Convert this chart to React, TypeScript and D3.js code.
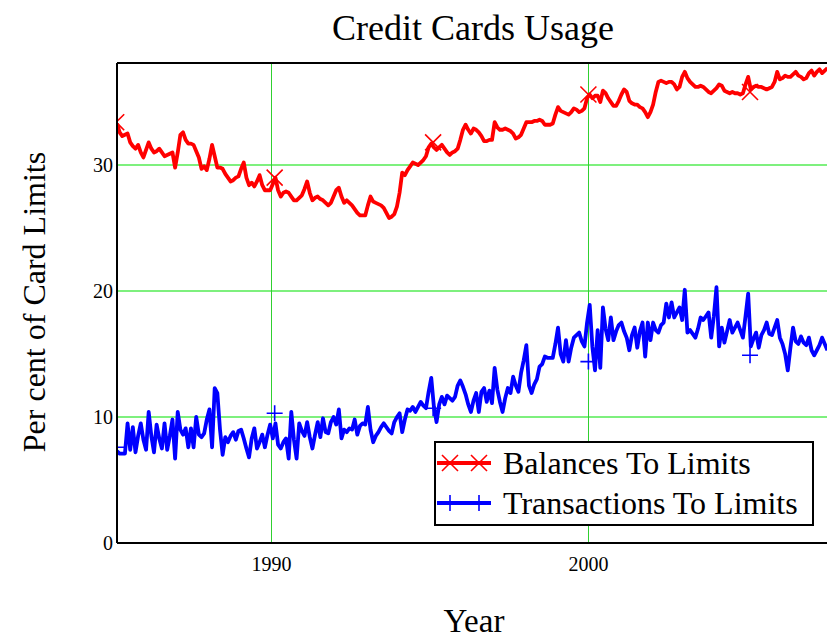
import React from 'react'
import * as d3 from 'd3'

// monthly samples, first one is Feb 1985
const startYear = 1985.125
const balances = [
  33.3, 32.6, 32.3, 32.4, 32.5, 31.8, 31.5, 31.3, 31.6, 31.0, 30.6, 31.2, 31.8, 31.3, 31.0, 31.1, 31.3, 31.0, 30.7, 30.8,
  30.9, 31.0, 29.8, 31.0, 32.4, 32.6, 32.0, 31.7, 31.7, 31.6, 31.1, 30.6, 29.7, 29.9, 29.6, 30.5, 31.6, 30.7, 29.8, 29.8,
  29.7, 29.3, 29.0, 28.7, 28.8, 29.0, 29.1, 29.7, 30.2, 29.0, 28.4, 28.6, 28.3, 28.7, 29.2, 28.4, 28.0, 28.0, 28.0, 28.5,
  29.0, 28.0, 27.5, 27.8, 27.9, 27.8, 27.5, 27.2, 27.2, 27.4, 27.6, 28.1, 28.7, 27.8, 27.2, 27.4, 27.5, 27.3, 27.2, 27.0,
  26.8, 27.0, 27.5, 28.0, 28.2, 27.5, 27.0, 27.2, 27.0, 26.8, 26.5, 26.2, 26.0, 26.0, 26.0, 26.8, 27.5, 27.1, 27.0, 26.9,
  26.8, 26.6, 26.2, 25.8, 25.9, 26.1, 26.7, 27.8, 29.4, 29.2, 29.6, 29.9, 30.2, 30.1, 30.0, 30.2, 30.4, 30.7, 31.4, 31.7,
  31.4, 31.2, 31.4, 31.6, 31.3, 31.0, 30.8, 31.0, 31.1, 31.3, 32.0, 32.8, 33.2, 32.8, 32.5, 32.9, 32.8, 32.6, 32.3, 31.9,
  31.9, 32.0, 32.0, 33.4, 33.0, 32.8, 32.8, 32.9, 32.8, 32.7, 32.5, 32.1, 32.2, 32.4, 32.9, 33.4, 33.4, 33.4, 33.5, 33.5,
  33.6, 33.5, 33.2, 33.2, 33.2, 33.3, 34.0, 34.6, 34.3, 34.2, 34.1, 34.0, 34.2, 34.5, 34.4, 34.2, 34.3, 34.5, 35.3, 35.6,
  35.3, 35.5, 35.5, 35.0, 35.9, 35.7, 35.3, 35.0, 34.7, 34.7, 35.1, 35.6, 36.0, 35.8, 35.1, 34.9, 34.8, 34.8, 34.6, 34.5,
  34.2, 33.8, 34.2, 34.8, 35.8, 36.6, 36.7, 36.6, 36.5, 36.6, 36.6, 36.4, 36.0, 36.2, 37.0, 37.4, 36.9, 36.6, 36.4, 36.2,
  36.2, 36.3, 36.2, 36.0, 35.8, 35.7, 35.9, 36.1, 36.4, 36.3, 35.9, 35.8, 35.7, 35.8, 35.7, 35.7, 35.6, 35.7, 36.4, 37.0,
  36.0, 36.2, 36.3, 36.2, 36.2, 36.1, 36.0, 36.1, 36.2, 36.6, 37.4, 36.8, 36.9, 37.1, 37.0, 37.0, 37.2, 37.4, 37.1, 37.0,
  36.8, 36.9, 37.3, 37.5, 37.1, 37.4, 37.6, 37.3, 37.5, 37.7,
]
const transactions = [
  7.3, 7.1, 7.1, 7.1, 9.5, 7.4, 9.2, 7.2, 8.5, 9.5, 8.2, 7.4, 10.4, 8.5, 7.2, 9.4, 8.3, 7.5, 9.5, 7.4,
  8.5, 9.8, 6.7, 10.4, 9.0, 8.6, 9.1, 7.6, 9.1, 7.6, 10.0, 8.6, 8.4, 8.7, 9.8, 10.6, 7.6, 12.3, 11.9, 9.0,
  7.0, 8.4, 8.0, 8.5, 8.8, 8.2, 8.9, 9.0, 8.3, 7.5, 6.8, 8.3, 9.1, 7.5, 8.0, 8.6, 7.6, 8.6, 9.4, 8.3,
  9.5, 7.8, 7.5, 8.0, 8.3, 6.7, 10.4, 8.2, 6.7, 9.5, 8.9, 8.5, 9.6, 8.4, 7.5, 8.6, 9.6, 8.4, 9.9, 8.8,
  8.7, 9.6, 10.0, 9.4, 10.6, 8.3, 9.0, 8.8, 9.1, 9.0, 9.8, 8.6, 9.3, 9.5, 9.4, 10.8, 9.0, 8.0, 8.5, 8.8,
  9.2, 9.5, 9.2, 8.9, 8.7, 9.6, 10.0, 10.3, 8.8, 9.8, 10.6, 10.5, 10.8, 10.4, 10.8, 11.2, 10.9, 10.7, 12.0, 13.1,
  10.8, 9.6, 11.0, 11.6, 11.0, 11.7, 11.5, 11.3, 11.6, 12.5, 12.9, 12.4, 11.8, 11.0, 10.4, 11.3, 11.9, 10.4, 12.0, 12.3,
  11.2, 12.1, 11.1, 13.9, 12.2, 11.2, 10.4, 11.5, 12.3, 11.9, 13.2, 12.5, 12.0, 13.5, 14.5, 15.7, 12.5, 11.9, 12.6, 13.0,
  14.0, 14.2, 14.8, 14.7, 14.7, 14.7, 15.8, 17.1, 15.0, 14.4, 16.1, 14.4, 15.5, 16.3, 16.5, 16.7, 16.0, 15.6, 17.5, 18.9,
  15.6, 13.7, 16.9, 13.9, 18.7, 17.0, 16.1, 17.9, 16.1, 16.8, 17.3, 17.5, 16.8, 16.3, 15.3, 16.5, 17.1, 15.5, 16.8, 17.5,
  14.8, 17.5, 16.1, 17.5, 16.9, 16.7, 17.3, 17.5, 19.0, 17.9, 19.1, 17.9, 18.3, 18.7, 17.7, 20.1, 16.7, 16.9, 16.6, 16.3,
  17.0, 17.9, 17.7, 18.0, 18.3, 16.3, 18.0, 20.3, 15.6, 17.1, 15.9, 16.8, 17.7, 16.7, 17.1, 17.5, 16.9, 16.3, 18.0, 19.8,
  15.6, 16.2, 16.7, 15.5, 16.5, 16.9, 17.5, 16.6, 16.5, 17.1, 17.7, 16.3, 15.8, 15.0, 13.7, 15.5, 17.1, 16.0, 15.8, 16.4,
  15.9, 15.7, 16.3, 15.3, 14.9, 15.3, 15.7, 16.3, 15.8, 15.3,
]
const markerYears = [1985.1, 1990.1, 1995.1, 2000.0, 2005.1]
const balanceMarkers = [33.4, 29.0, 31.8, 35.6, 35.8]
const transactionMarkers = [7.6, 10.3, 10.7, 14.4, 14.9]
const yTicks = [0, 10, 20, 30]
const xTicks = [1990, 2000]
const legendLabels = ['Balances To Limits', 'Transactions To Limits']

const W = 827
const H = 639
const plot = { left: 117, top: 63, right: 827.4, bottom: 543 }
const font = '"Liberation Serif", "Times New Roman", serif'

export default function App() {
  const times = balances.map((_, i) => startYear + i / 12)
  const x = d3.scaleLinear().domain([times[0], times[times.length - 1]]).range([plot.left, plot.right])
  const y = d3.scaleLinear().domain([0, 38.1]).range([plot.bottom, plot.top])
  const line = d3.line<number>().x((_, i) => x(times[i])).y(d => y(d))

  const cross = (cx: number, cy: number, s: number) =>
    `M${cx - s},${cy - s}L${cx + s},${cy + s}M${cx - s},${cy + s}L${cx + s},${cy - s}`
  const plus = (cx: number, cy: number, s: number) =>
    `M${cx - s},${cy}L${cx + s},${cy}M${cx},${cy - s}L${cx},${cy + s}`

  return (
    <svg width={W} height={H} style={{ position: 'absolute', left: 0, top: 0, background: '#fff' }} fontFamily={font}>
      <defs>
        <clipPath id="plotClip">
          <rect x={plot.left} y={plot.top} width={plot.right - plot.left} height={plot.bottom - plot.top} />
        </clipPath>
      </defs>

      <text x={473} y={40} textAnchor="middle" fontSize={36}>Credit Cards Usage</text>

      {/* grid */}
      {yTicks.filter(t => t > 0).map(t => (
        <line key={'gy' + t} x1={plot.left} x2={plot.right} y1={y(t)} y2={y(t)} stroke="#7ef07e" strokeWidth={2} />
      ))}
      {xTicks.map(t => (
        <line key={'gx' + t} x1={Math.round(x(t)) + 0.5} x2={Math.round(x(t)) + 0.5} y1={plot.top} y2={plot.bottom}
          stroke="#30d030" strokeWidth={1} />
      ))}

      <g clipPath="url(#plotClip)">
        <path d={line(balances) || ''} fill="none" stroke="#ff0000" strokeWidth={3.8} strokeLinejoin="round" />
        <path d={line(transactions) || ''} fill="none" stroke="#0000ff" strokeWidth={3.8} strokeLinejoin="round" />
        {markerYears.map((t, i) => (
          <path key={'mb' + i} d={cross(x(t), y(balanceMarkers[i]), 8)} stroke="#ff0000" strokeWidth={1.6} />
        ))}
        {markerYears.map((t, i) => (
          <path key={'mt' + i} d={plus(x(t), y(transactionMarkers[i]), 8)} stroke="#0000ff" strokeWidth={1.6} />
        ))}
      </g>

      {/* frame */}
      <line x1={plot.left} x2={plot.left} y1={plot.top} y2={plot.bottom} stroke="#000" strokeWidth={2} />
      <line x1={plot.left} x2={W} y1={plot.top} y2={plot.top} stroke="#000" strokeWidth={2} />
      <line x1={plot.left} x2={W} y1={plot.bottom} y2={plot.bottom} stroke="#000" strokeWidth={2} />

      {yTicks.map(t => (
        <text key={'ty' + t} x={113} y={y(t) + 7} textAnchor="end" fontSize={20}>{t}</text>
      ))}
      {xTicks.map(t => (
        <text key={'tx' + t} x={x(t)} y={571} textAnchor="middle" fontSize={20}>{t}</text>
      ))}

      <text x={474} y={632} textAnchor="middle" fontSize={33}>Year</text>
      <text transform="translate(45,302) rotate(-90)" textAnchor="middle" fontSize={32}>Per cent of Card Limits</text>

      {/* legend */}
      <rect x={435} y={442} width={378} height={83} fill="#fff" stroke="#000" strokeWidth={2} />
      {legendLabels.map((label, i) => {
        const ly = 463 + i * 40
        const color = i === 0 ? '#ff0000' : '#0000ff'
        const mark = i === 0 ? cross : plus
        return (
          <g key={label}>
            <line x1={437} x2={491} y1={ly} y2={ly} stroke={color} strokeWidth={3.8} />
            <path d={mark(450, ly, 8)} stroke={color} strokeWidth={1.6} />
            <path d={mark(479, ly, 8)} stroke={color} strokeWidth={1.6} />
            <text x={503} y={ly + 11} fontSize={32}>{label}</text>
          </g>
        )
      })}
    </svg>
  )
}
